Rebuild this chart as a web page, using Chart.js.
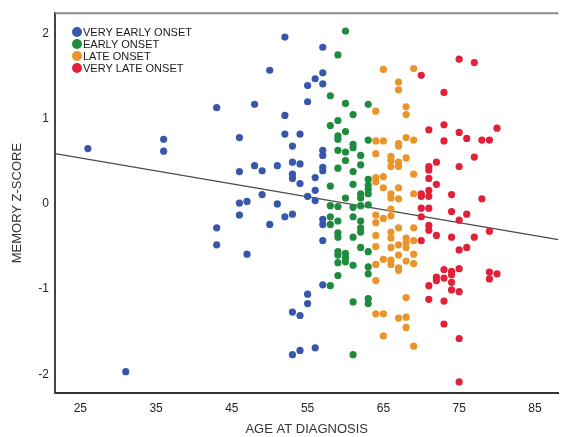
<!DOCTYPE html>
<html lang="en">
<head>
<meta charset="UTF-8">
<title>Memory z-score by age at diagnosis</title>
<style>
  html, body { margin: 0; padding: 0; background: #fff; }
</style>
</head>
<body>
<canvas id="myChart" width="562" height="437"></canvas>
<script src="https://cdn.jsdelivr.net/npm/chart.js"></script>
<script>
// values
const groupNames = ['VERY EARLY ONSET', 'EARLY ONSET', 'LATE ONSET', 'VERY LATE ONSET'];
const groupColors = ['#3757ab', '#1e8b3d', '#eb9429', '#e02139'];

const veryEarlyAge = [26, 31, 36, 36, 43, 43, 43, 46, 46, 46, 46, 47, 47, 48, 48, 49, 49, 50, 50, 51, 51,
  52, 52, 52, 52, 53, 53, 53, 53, 53, 53, 53, 54, 54, 54, 54, 54, 55, 55, 55, 55, 55,
  56, 56, 56, 56, 56, 57, 57, 57, 57, 57, 57, 57, 57, 57, 57, 57];
const veryEarlyZ = [0.65, -1.97, 0.76, 0.62, 1.13, -0.28, -0.48, 0.78, 0.38, 0.01, -0.13, 0.03, -0.59, 1.17, 0.45, 0.39, 0.11, 1.57, -0.24, 0.45, 0.00,
  1.96, 1.04, 0.82, -0.15, 0.68, 0.49, 0.35, 0.30, -0.12, -1.27, -1.77, 0.82, 0.47, 0.24, -1.31, -1.72, 1.39, 1.20, 0.09, -1.06, -1.17,
  1.47, 0.31, 0.16, 0.04, -1.69, 1.84, 1.54, 1.41, 0.63, 0.57, 0.43, 0.39, -0.18, -0.24, -0.43, -0.95];

const earlyAge = [58, 58, 58, 58, 58, 58, 58,
  59, 59, 59, 59, 59, 59, 59, 59, 59, 59, 59, 59, 59, 59,
  60, 60, 60, 60, 60, 60, 60, 60, 60,
  61, 61, 61, 61, 61, 61, 61, 61, 61, 61, 61,
  62, 62, 62, 62, 62, 62, 62, 62, 62,
  63, 63, 63, 63, 63, 63, 63, 63, 63, 63, 63, 63];
const earlyZ = [1.27, 0.92, 0.21, -0.02, -0.15, -0.24, -0.96,
  1.75, 0.98, 0.80, 0.76, 0.63, 0.42, -0.03, -0.20, -0.34, -0.39, -0.56, -0.60, -0.69, -0.84,
  2.03, 1.18, 0.85, 0.61, 0.51, 0.07, -0.58, -0.63, -0.68,
  1.05, 0.70, 0.66, 0.38, 0.23, -0.04, -0.15, -0.39, -0.72, -1.15, -1.77,
  0.57, 0.46, 0.12, 0.07, -0.02, -0.20, -0.28, -0.33, -0.51,
  1.17, 0.75, 0.29, 0.22, 0.17, 0.12, -0.01, -0.56, -0.74, -0.82, -1.11, -1.17];

const lateAge = [64, 64, 64, 64, 64, 64, 64, 64, 64, 64, 64, 64,
  65, 65, 65, 65, 65, 65, 65, 65,
  66, 66, 66, 66, 66, 66, 66, 66, 66, 66, 66, 66,
  67, 67, 67, 67, 67, 67, 67, 67, 67, 67, 67, 67, 67, 67,
  68, 68, 68, 68, 68, 68, 68, 68, 68, 68, 68,
  69, 69, 69, 69, 69, 69, 69, 69, 69];
const lateZ = [1.09, 0.74, 0.59, 0.31, 0.26, -0.13, -0.22, -0.37, -0.50, -0.71, -0.90, -1.29,
  1.58, 0.74, 0.32, 0.19, -0.17, -0.65, -1.29, -1.55,
  0.56, 0.51, 0.44, 0.12, 0.07, -0.06, -0.14, -0.33, -0.40, -0.51, -0.66, -0.71,
  1.43, 1.34, 0.71, 0.68, 0.49, 0.44, 0.19, 0.06, -0.28, -0.48, -0.60, -0.75, -0.78, -1.34,
  1.14, 1.05, 0.78, 0.54, -0.40, -0.45, -0.51, -0.67, -1.10, -1.33, -1.45,
  1.59, 0.75, 0.35, 0.12, -0.28, -0.43, -0.59, -0.70, -1.67];

const veryLateAge = [70, 70, 70, 70, 70, 70,
  71, 71, 71, 71, 71, 71, 71, 71, 71, 71, 71,
  72, 72, 72, 72, 72,
  73, 73, 73, 73, 73, 73, 73,
  74, 74, 74, 74, 74, 74, 74,
  75, 75, 75, 75, 75, 75, 75, 75, 75,
  76, 76, 76, 77, 77, 77, 78, 78, 79, 79, 79, 79, 80, 80];
const veryLateZ = [1.51, 0.12, 0.09, -0.05, -0.15, -0.43,
  0.87, 0.44, 0.40, 0.30, 0.16, 0.09, -0.05, -0.25, -0.31, -0.96, -1.12,
  0.49, 0.23, -0.37, -0.86, -0.90,
  1.31, 0.93, 0.74, -0.77, -0.87, -1.14, -1.41,
  0.11, -0.09, -0.39, -0.79, -0.83, -0.92, -1.01,
  1.70, 0.84, 0.44, -0.19, -0.54, -0.76, -1.03, -1.58, -2.09,
  0.77, -0.12, -0.51, 1.66, 0.55, -0.39, 0.75, 0.06, 0.75, -0.32, -0.80, -0.88, 0.89, -0.82];

// fitted line (ends at the axis limits)
const fitAge = [21.66, 88.1];
const fitZ = [0.59, -0.42];

const xTicks = [25, 35, 45, 55, 65, 75, 85];
const yTicks = [-2, -1, 0, 1, 2];

const FONT = 'Liberation Sans, Arial, sans-serif';

function toPoints(xs, ys) {
  return xs.map((x, i) => ({ x: x, y: ys[i] }));
}

const groups = [
  toPoints(veryEarlyAge, veryEarlyZ),
  toPoints(earlyAge, earlyZ),
  toPoints(lateAge, lateZ),
  toPoints(veryLateAge, veryLateZ)
];

const datasets = groups.map((pts, i) => ({
  type: 'scatter',
  label: groupNames[i],
  data: pts,
  backgroundColor: groupColors[i],
  borderColor: groupColors[i],
  borderWidth: 0,
  pointRadius: 3.6,
  pointHoverRadius: 3.6
}));

datasets.push({
  type: 'line',
  label: 'fit',
  data: toPoints(fitAge, fitZ),
  borderColor: '#4a4a4a',
  borderWidth: 1.3,
  pointRadius: 0,
  fill: false
});

// top border of the plot box + legend inside the plot
const frameAndLegend = {
  id: 'frameAndLegend',
  afterDraw(chart) {
    const c = chart.ctx;
    const a = chart.chartArea;
    c.save();
    c.strokeStyle = '#8a8a8a';
    c.lineWidth = 2;
    c.beginPath();
    c.moveTo(a.left, a.top);
    c.lineTo(a.right, a.top);
    c.stroke();

    c.font = '11px ' + FONT;
    c.textBaseline = 'middle';
    c.textAlign = 'left';
    for (let i = 0; i < groupNames.length; i++) {
      const y = 32 + i * 12;
      c.fillStyle = groupColors[i];
      c.beginPath();
      c.arc(77, y, 5, 0, Math.PI * 2);
      c.fill();
      c.fillStyle = '#1a1a1a';
      c.fillText(groupNames[i], 83, y + 0.5);
    }
    c.restore();
  }
};

const ctx = document.getElementById('myChart');
const myChart = new Chart(ctx, {
  data: { datasets: datasets },
  options: {
    responsive: false,
    devicePixelRatio: 1,
    animation: false,
    layout: { padding: { top: 10, right: 0, left: 0, bottom: 0 } },
    plugins: {
      legend: { display: false },
      tooltip: { enabled: false }
    },
    scales: {
      x: {
        type: 'linear',
        min: 21.66,
        max: 88.1,
        afterBuildTicks: (axis) => { axis.ticks = xTicks.map(v => ({ value: v })); },
        afterFit: (scale) => { scale.height = 44; },
        grid: { display: false, drawTicks: false },
        border: { display: true, color: '#333', width: 2 },
        ticks: { color: '#222', font: { family: FONT, size: 12 }, padding: 8, maxRotation: 0 },
        title: { display: true, text: 'AGE AT DIAGNOSIS', color: '#333', font: { family: FONT, size: 13 }, padding: { top: 0, bottom: 0 } }
      },
      y: {
        type: 'linear',
        min: -2.22,
        max: 2.24,
        afterBuildTicks: (axis) => { axis.ticks = yTicks.map(v => ({ value: v })); },
        afterFit: (scale) => { scale.width = 55; },
        grid: { display: false, drawTicks: false },
        border: { display: true, color: '#444', width: 2 },
        ticks: { color: '#222', font: { family: FONT, size: 12 }, padding: 6 },
        title: { display: true, text: 'MEMORY Z-SCORE', color: '#333', font: { family: FONT, size: 13 }, padding: { top: 10, bottom: 0 } }
      }
    }
  },
  plugins: [frameAndLegend]
});
</script>
</body>
</html>
